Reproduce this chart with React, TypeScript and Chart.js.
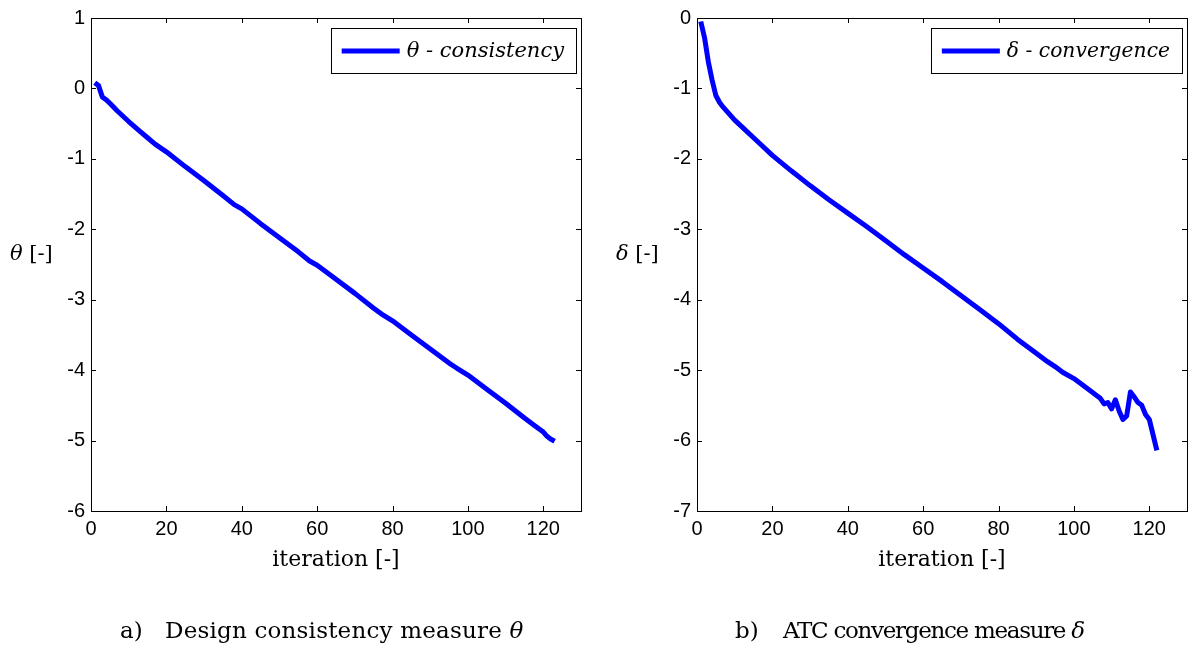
import React, { useEffect, useRef } from 'react';
import { Chart, registerables } from 'chart.js';
Chart.register(...registerables);

// ---- data ----
const thetaIter = [1, 2, 3, 4, 5, 7, 10, 13, 15, 17, 20, 25, 30, 35, 38, 40, 45, 50, 55, 58, 60, 65, 70, 75, 77, 80, 85, 90, 95, 97, 100, 105, 110, 115, 118, 120, 121, 122, 123];
const thetaValues = [0.08, 0.04, -0.12, -0.16, -0.21, -0.32, -0.47, -0.61, -0.70, -0.79, -0.90, -1.11, -1.31, -1.52, -1.65, -1.71, -1.92, -2.12, -2.32, -2.45, -2.51, -2.71, -2.91, -3.12, -3.20, -3.30, -3.50, -3.70, -3.90, -3.97, -4.07, -4.27, -4.47, -4.68, -4.80, -4.88, -4.94, -4.98, -5.01];

const deltaIter = [1, 2, 3, 4, 5, 6, 7, 8, 10, 12, 15, 17, 20, 25, 30, 35, 40, 45, 50, 55, 60, 65, 70, 75, 80, 85, 90, 93, 95, 97, 100, 104, 106, 107, 108, 109, 110, 111, 112, 113, 114, 115, 116, 117, 118, 119, 120, 121, 122];
const deltaValues = [-0.05, -0.28, -0.62, -0.88, -1.10, -1.20, -1.27, -1.33, -1.45, -1.55, -1.70, -1.80, -1.95, -2.17, -2.38, -2.58, -2.77, -2.96, -3.16, -3.36, -3.55, -3.74, -3.94, -4.14, -4.34, -4.56, -4.76, -4.88, -4.95, -5.03, -5.12, -5.28, -5.36, -5.40, -5.48, -5.46, -5.55, -5.42, -5.58, -5.70, -5.65, -5.31, -5.38, -5.46, -5.50, -5.63, -5.70, -5.92, -6.14];

const xTickStep = 20;
const xMax = 130;
const thetaYRange = [-6, 1];
const deltaYRange = [-7, 0];

const thetaLegend = 'θ - consistency';
const deltaLegend = 'δ - convergence';
const thetaYLabel = 'θ';
const deltaYLabel = 'δ';
const xTitle = 'iteration [-]';

const SERIF = '"DejaVu Serif", serif';
const SANS = '"Liberation Sans", Arial, sans-serif';

const matlabPlugin = {
  id: 'matlab',
  afterDraw(chart: any, _args: any, opts: any) {
    const { ctx, chartArea: a, scales } = chart;
    ctx.save();
    ctx.strokeStyle = '#000';
    ctx.lineWidth = 1;
    // frame
    ctx.strokeRect(Math.round(a.left) + 0.5, Math.round(a.top) + 0.5, Math.round(a.right - a.left), Math.round(a.bottom - a.top));
    const tl = 5;
    ctx.beginPath();
    scales.x.ticks.forEach((t: any) => {
      const px = Math.round(scales.x.getPixelForValue(t.value)) + 0.5;
      ctx.moveTo(px, a.bottom); ctx.lineTo(px, a.bottom - tl);
      ctx.moveTo(px, a.top); ctx.lineTo(px, a.top + tl);
    });
    scales.y.ticks.forEach((t: any) => {
      const py = Math.round(scales.y.getPixelForValue(t.value)) + 0.5;
      ctx.moveTo(a.left, py); ctx.lineTo(a.left + tl, py);
      ctx.moveTo(a.right, py); ctx.lineTo(a.right - tl, py);
    });
    ctx.stroke();

    // legend box
    ctx.font = 'italic ' + opts.legendSize + 'px ' + SERIF;
    const tw = ctx.measureText(opts.legend).width;
    const boxW = 11 + 58 + 7 + tw + 12;
    const boxR = a.right - 5;
    const boxL = boxR - boxW;
    const boxT = a.top + 10;
    const boxH = 45;
    ctx.fillStyle = '#fff';
    ctx.fillRect(boxL, boxT, boxW, boxH);
    ctx.strokeRect(Math.round(boxL) + 0.5, Math.round(boxT) + 0.5, Math.round(boxW), boxH);
    ctx.strokeStyle = '#0000ff';
    ctx.lineWidth = 5;
    ctx.beginPath();
    ctx.moveTo(boxL + 11, boxT + 23);
    ctx.lineTo(boxL + 69, boxT + 23);
    ctx.stroke();
    ctx.fillStyle = '#000';
    ctx.textBaseline = 'alphabetic';
    ctx.textAlign = 'left';
    ctx.fillText(opts.legend, boxL + 76, boxT + 29);

    // horizontal y label
    const lx = a.left - 81;
    const ly = 260;
    ctx.font = 'italic 21px ' + SERIF;
    ctx.fillText(opts.ylabel, lx, ly);
    const sw = ctx.measureText(opts.ylabel + ' ').width;
    ctx.font = '21px ' + SERIF;
    ctx.fillText('[-]', lx + sw, ly);
    ctx.restore();
  },
};

function makeConfig(xs: number[], ys: number[], yr: number[], pad: any, legend: string, legendSize: number, ylabel: string) {
  return {
    type: 'line',
    data: {
      datasets: [{
        data: xs.map((x, i) => ({ x, y: ys[i] })),
        borderColor: '#0000ff',
        borderWidth: 5,
        pointRadius: 0,
        fill: false,
        tension: 0,
        borderJoinStyle: 'round',
      }],
    },
    options: {
      animation: false,
      responsive: false,
      devicePixelRatio: 1,
      layout: { padding: pad },
      plugins: {
        legend: { display: false },
        tooltip: { enabled: false },
        matlab: { legend, legendSize, ylabel },
      },
      scales: {
        x: {
          type: 'linear',
          min: 0,
          max: xMax,
          grid: { display: false, drawTicks: false },
          border: { display: false },
          ticks: { stepSize: xTickStep, includeBounds: false, color: '#000', font: { family: SANS, size: 20 }, padding: 6, maxRotation: 0 },
          title: { display: true, text: xTitle, color: '#000', font: { family: SERIF, size: 22 }, padding: { top: 0, bottom: 8 } },
          afterFit: (s: any) => { s.height = 70; },
        },
        y: {
          type: 'linear',
          min: yr[0],
          max: yr[1],
          grid: { display: false, drawTicks: false },
          border: { display: false },
          ticks: { stepSize: 1, includeBounds: false, color: '#000', font: { family: SANS, size: 20 }, padding: 6 },
          afterFit: (s: any) => { s.width = 40; },
        },
      },
    },
    plugins: [matlabPlugin],
  } as any;
}

function Panel(props: { left: number; width: number; cfg: any }) {
  const ref = useRef<HTMLCanvasElement>(null);
  useEffect(() => {
    const c = new Chart(ref.current as HTMLCanvasElement, props.cfg);
    return () => c.destroy();
  }, []);
  return (
    <canvas
      ref={ref}
      width={props.width}
      height={648}
      style={{ position: 'absolute', left: props.left, top: 0, width: props.width, height: 648 }}
    />
  );
}

const capStyle: React.CSSProperties = {
  position: 'absolute',
  fontFamily: SERIF,
  fontSize: 23,
  lineHeight: '23px',
  top: 619,
  whiteSpace: 'nowrap',
  color: '#000',
};

export default function App() {
  const leftCfg = makeConfig(thetaIter, thetaValues, thetaYRange, { left: 51, right: 13, top: 17, bottom: 67 }, thetaLegend, 21, thetaYLabel);
  const rightCfg = makeConfig(deltaIter, deltaValues, deltaYRange, { left: 63, right: 2, top: 17, bottom: 67 }, deltaLegend, 20.3, deltaYLabel);
  return (
    <div style={{ position: 'absolute', left: 0, top: 0, width: 1189, height: 648, background: '#fff', overflow: 'hidden' }}>
      <Panel left={0} width={594} cfg={leftCfg} />
      <Panel left={594} width={595} cfg={rightCfg} />
      <div style={{ ...capStyle, left: 120 }}>a)</div>
      <div style={{ ...capStyle, left: 165, letterSpacing: '0.2px' }}>Design consistency measure <i>θ</i></div>
      <div style={{ ...capStyle, left: 735 }}>b)</div>
      <div style={{ ...capStyle, left: 783, letterSpacing: '-1.3px' }}>ATC convergence measure <i>δ</i></div>
    </div>
  );
}
